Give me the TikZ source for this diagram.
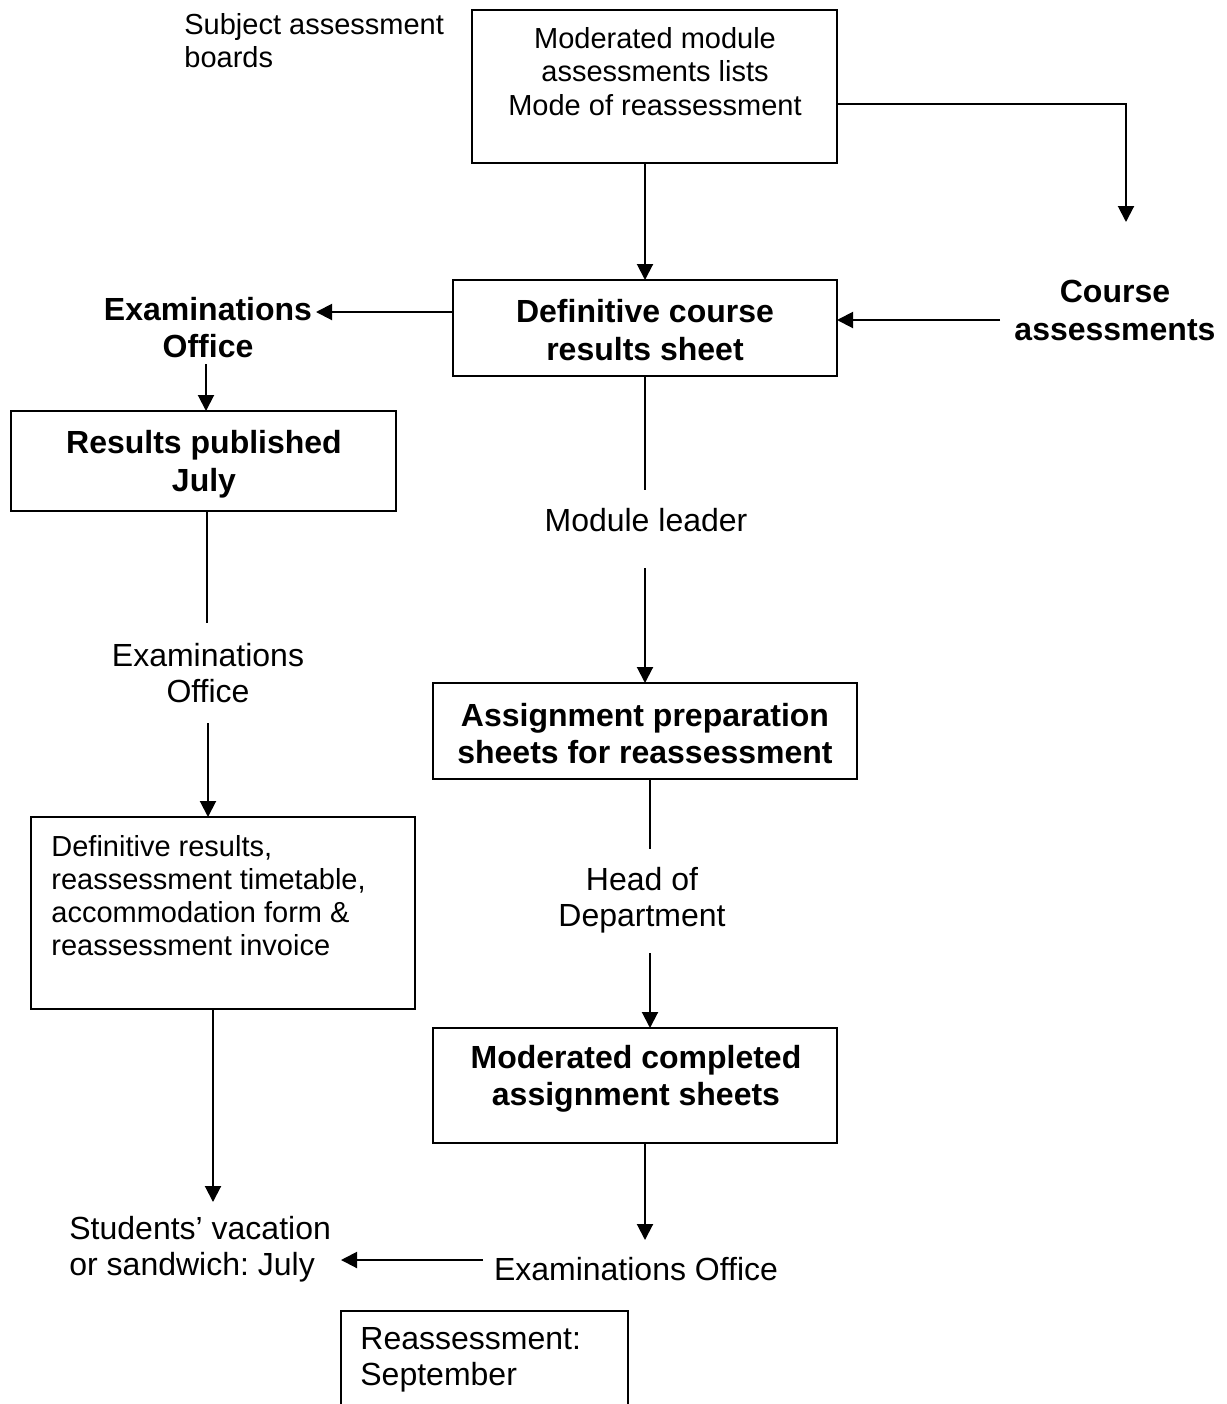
\documentclass[tikz,border=0pt]{standalone}
\usepackage{fontspec}
\setmainfont{Liberation Sans}
\usetikzlibrary{arrows.meta}
\frenchspacing
\begin{document}
\begin{tikzpicture}[x=0.5pt,y=-0.5pt,
 box/.style={draw,line width=0.8pt,inner sep=0,outer sep=0},
 conn/.style={line width=1pt},
 arr/.style={line width=1pt,-{Triangle[length=8pt,width=8pt]}},
 sm/.style={font=\fontsize{14.5}{16.6}\selectfont,inner sep=0},
 lg/.style={font=\fontsize{16}{18}\selectfont,inner sep=0},
 bd/.style={font=\fontsize{16}{18.75}\selectfont\bfseries,inner sep=0},
]
\useasboundingbox (0,0) rectangle (1227,1404);
\clip (0,0) rectangle (1227,1404);

% boxes
\node[box,minimum width=182.5pt,minimum height=76.5pt] (b1) at (654.5,86.5) {};
\node[box,minimum width=192pt,minimum height=48pt] (b2) at (645,328) {};
\node[box,minimum width=192.5pt,minimum height=50pt] (b3) at (203.5,461) {};
\node[box,minimum width=192pt,minimum height=96pt] (b4) at (223,913) {};
\node[box,minimum width=212pt,minimum height=48pt] (b5) at (645,731) {};
\node[box,minimum width=202pt,minimum height=57.5pt] (b6) at (635,1085.5) {};
\node[box,minimum width=143.5pt,minimum height=59.5pt] (b7) at (484.5,1370.5) {};

% texts
\node[sm,align=left,anchor=west] (sab) at (184,41) {Subject assessment\\boards};
\node[sm,align=center] (t1) at (655,71.5) {Moderated module\\assessments lists\\Mode of reassessment};
\node[bd,align=center] (t2) at (645,330) {Definitive course\\results sheet};
\node[bd,align=center] (exo) at (208,327.5) {Examinations\\Office};
\node[bd,align=center] (ca) at (1115,310.5) {Course\\assessments};
\node[bd,align=center] (t3) at (204,464) {Results published\\July};
\node[lg,align=center] (exo2) at (208,673) {Examinations\\Office};
\node[sm,align=left,anchor=west] (t4) at (51,895.5) {Definitive results,\\reassessment timetable,\\accommodation form \&\\reassessment invoice};
\node[lg] (ml) at (646,520) {Module leader};
\node[bd,align=center] (t5) at (645,733.5) {Assignment preparation\\sheets for reassessment};
\node[lg,align=center] (hod) at (642,900) {Head of\\Department};
\node[bd,align=center] (t6) at (636,1079) {Moderated completed\\assignment sheets};
\node[lg] (exo3) at (636,1269) {Examinations Office};
\node[lg,align=left,anchor=west] (stu) at (69,1249.5) {Students’ vacation\\or sandwich: July};
\node[lg,align=left,anchor=west] (t7) at (360,1360) {Reassessment:\\September};

% free ends
\coordinate (trc) at (1126,104);
\coordinate (tre) at (1126,222);
\coordinate (exoE) at (316,312);
\coordinate (caW) at (1000,320);
\coordinate (exoS) at (206,364);
\coordinate (exo2N) at (207,623);
\coordinate (exo2S) at (208,723);
\coordinate (stuN) at (213,1202);
\coordinate (exo3W) at (483,1260);
\coordinate (stuE) at (341,1260);
\coordinate (mlN) at (645,490);
\coordinate (mlS) at (645,568);
\coordinate (hodN) at (650,849);
\coordinate (hodS) at (650,953);
\coordinate (exo3N) at (645,1240);

% connectors
\draw[arr] (b1.east |- trc) -- (trc) -- (tre);
\draw[arr] (b2.north |- b1.south) -- (b2.north);
\draw[arr] (b2.west |- exoE) -- (exoE);
\draw[arr] (caW) -- (b2.east |- caW);
\draw[arr] (exoS) -- (b3.north -| exoS);
\draw[conn] (b3.south -| exo2N) -- (exo2N);
\draw[arr] (exo2S) -- (b4.north -| exo2S);
\draw[arr] (b4.south -| stuN) -- (stuN);
\draw[arr] (exo3W) -- (stuE);
\draw[conn] (b2.south) -- (mlN);
\draw[arr] (mlS) -- (b5.north -| mlS);
\draw[conn] (b5.south -| hodN) -- (hodN);
\draw[arr] (hodS) -- (b6.north -| hodS);
\draw[arr] (b6.south -| exo3N) -- (exo3N);
\end{tikzpicture}
\end{document}
